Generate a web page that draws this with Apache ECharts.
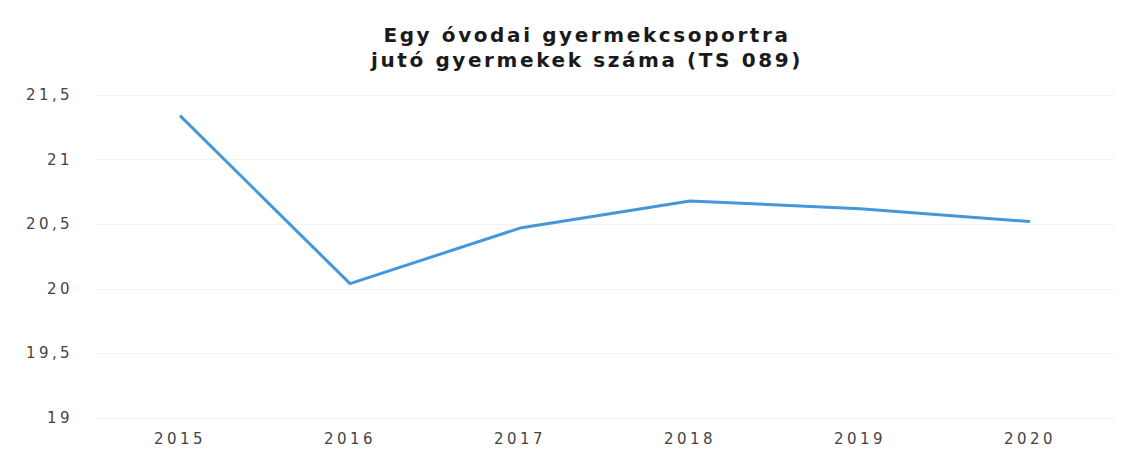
<!DOCTYPE html>
<html><head><meta charset="utf-8">
<script src="https://cdn.jsdelivr.net/npm/echarts@6/dist/echarts.min.js"></script>
<style>
html,body{margin:0;padding:0;background:#fff}
#c{width:1141px;height:450px}
#c text{letter-spacing:3.4px}
#c text[style*="bold"]{letter-spacing:2.6px}
</style>
</head><body><div id="c"></div>
<script>
const titleLines = ["Egy óvodai gyermekcsoportra", "jutó gyermekek száma (TS 089)"];
const years = ["2015", "2016", "2017", "2018", "2019", "2020"];
const values = [21.34, 20.04, 20.47, 20.68, 20.62, 20.52];
const yMin = 19, yMax = 21.5, yStep = 0.5;

const chart = echarts.init(document.getElementById('c'), null, { renderer: 'svg' });
chart.setOption({
  animation: false,
  backgroundColor: '#ffffff',
  title: {
    text: titleLines.join('\n'),
    left: 582, top: 17, textAlign: 'center',
    textStyle: { fontFamily: 'DejaVu Sans', fontWeight: 'bold', fontSize: 20, lineHeight: 25, color: '#1a1a1a' }
  },
  grid: { left: 95, right: 26, top: 95, bottom: 32 },
  xAxis: {
    type: 'category', data: years, boundaryGap: true,
    axisLine: { show: false }, axisTick: { show: false },
    axisLabel: { color: '#444', fontFamily: 'DejaVu Sans', fontSize: 15, margin: 13 }
  },
  yAxis: {
    type: 'value', min: yMin, max: yMax, interval: yStep,
    axisLine: { show: false }, axisTick: { show: false },
    splitLine: { lineStyle: { color: '#f3f3f3', width: 1 } },
    axisLabel: { color: '#444', fontFamily: 'DejaVu Sans', fontSize: 15, margin: 22,
      formatter: v => String(v).replace('.', ',') }
  },
  series: [{
    type: 'line', data: values, symbol: 'none',
    lineStyle: { color: '#4597d8', width: 3 }
  }]
});
</script></body></html>
